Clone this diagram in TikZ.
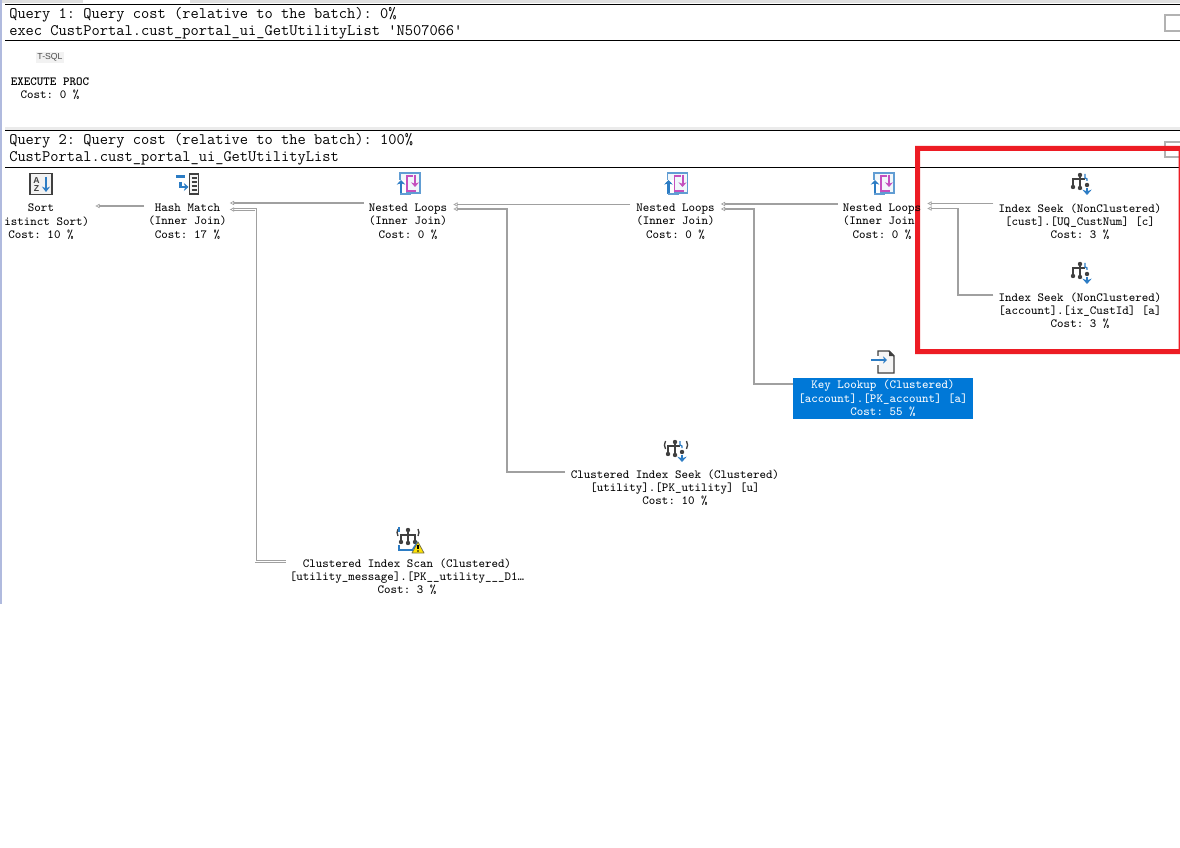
\documentclass[tikz,border=0pt]{standalone}
\usepackage{fontspec}
\newfontfamily\iconfont{Liberation Sans}
\usetikzlibrary{arrows.meta,calc}
\definecolor{linkgray}{RGB}{160,160,160}
\definecolor{iconblue}{RGB}{44,124,196}
\definecolor{icondark}{RGB}{64,64,64}
\definecolor{iconpink}{RGB}{196,80,190}
\definecolor{selblue}{RGB}{0,120,215}
\definecolor{markred}{RGB}{237,28,36}
\definecolor{paneblue}{RGB}{176,186,222}
\tikzset{
  x=0.75pt,y=-0.75pt,
  header/.style={anchor=base west,inner sep=0pt,font=\ttfamily\frenchspacing\fontsize{12pt}{12pt}\selectfont},
  oplabel/.style={align=center,inner sep=0pt,font=\ttfamily\frenchspacing\fontsize{9.3pt}{10.1pt}\selectfont},
  rule/.style={draw=black,line width=0.75pt},
  linkhead/.style={-{Triangle[open,length=3.2pt,width=3.2pt,line width=0.5pt]}},
  linkthin/.style={linkhead,draw=linkgray,line width=0.9pt},
  linkmid/.style={linkhead,draw=linkgray,line width=1.3pt},
  linkwide/.style={linkhead,draw=linkgray,line width=1.9pt},
  linkdouble/.style={draw=linkgray,line width=0.6pt,double=white,double distance=0.5pt,
    -{Triangle[open,length=3.2pt,width=3.2pt,line width=0.5pt]}},
  minibox/.style={draw=black!30,fill=white,line width=1.4pt},
}
% Operator icons, each drawn around its own centre
\newcommand{\sorticon}[2]{\begin{scope}[shift={(#1,#2)}]
  \draw[icondark,line width=1.1pt,fill=black!5] (-11,-10.5) rectangle (11,10.5);
  \node[inner sep=0pt,font=\iconfont\bfseries\fontsize{6.5pt}{6.5pt}\selectfont,text=icondark] at (-4.5,-3.5) {A};
  \node[inner sep=0pt,font=\iconfont\bfseries\fontsize{6.5pt}{6.5pt}\selectfont,text=icondark] at (-4.5,5) {Z};
  \draw[iconblue,line width=1.4pt,-{Stealth[length=4pt,width=6pt]}] (5,-7) -- (5,8);
\end{scope}}
\newcommand{\hashicon}[2]{\begin{scope}[shift={(#1,#2)}]
  \fill[iconblue] (-12,-9) rectangle (-3,-6);
  \draw[iconblue,line width=1.8pt,-{Stealth[length=3.5pt,width=6pt]}] (-7,-2) -- (-7,3) -- (1,3);
  \draw[icondark,line width=1pt,fill=black!4] (2,-10) rectangle (11,10);
  \foreach \ly in {-6,-2,2,6} \draw[icondark,line width=0.9pt] (4,\ly) -- (9,\ly);
\end{scope}}
\newcommand{\loopicon}[2]{\begin{scope}[shift={(#1,#2)}]
  \draw[iconblue!75,line width=1.3pt,fill=iconblue!6] (-8,-11) rectangle (12,9);
  \fill[white] (-12,-4) rectangle (-2,11);
  \draw[iconblue,line width=1.7pt,-{Stealth[length=3.5pt,width=6.5pt]}] (-7,10) -- (-7,-4);
  \draw[iconblue!75,line width=1.3pt] (-8,10) -- (3,10);
  \draw[iconpink,line width=1.1pt] (5,-8) -- (-1,-8) -- (-1,7) -- (8,7);
  \draw[iconpink,line width=1.5pt,-{Stealth[length=3.5pt,width=6pt]}] (7,-9) -- (7,3);
\end{scope}}
\newcommand{\treeicon}[2]{\begin{scope}[shift={(#1,#2)},icondark,line width=1.2pt]
  \draw (0,-8) -- (0,5) (-7,4) -- (-7,-4) -- (5,-4);
  \fill (0,-8) circle (2.2) (0,5) circle (2.2) (-7,4) circle (2.2);
\end{scope}}
\newcommand{\seekicon}[2]{\begin{scope}[shift={(#1,#2)}]
  \treeicon{0}{0}
  \draw[iconblue,line width=1pt] (5,-9) -- (5,-5) -- (7,-4) -- (7,-2);
  \fill[icondark] (7,2) circle (2.2);
  \draw[iconblue,line width=1.5pt,-{Stealth[length=4pt,width=7pt]}] (7,5) -- (7,12);
\end{scope}}
\newcommand{\bracketseekicon}[2]{\begin{scope}[shift={(#1,#2)}]
  \seekicon{0}{0}
  \draw[icondark,line width=1pt] (-9.5,-1) arc[start angle=150,end angle=210,radius=8];
  \draw[icondark,line width=1pt] (11.5,-1) arc[start angle=30,end angle=-30,radius=8];
\end{scope}}
\newcommand{\lookupicon}[2]{\begin{scope}[shift={(#1,#2)}]
  \draw[icondark,line width=1.1pt,fill=black!4] (-5,-11) -- (6,-11) -- (11,-6) -- (11,11) -- (-5,11) -- cycle;
  \fill[icondark] (6,-11) -- (11,-6) -- (6,-6) -- cycle;
  \fill[white] (-6,-6) rectangle (-4,3);
  \draw[iconblue,line width=1.4pt,-{Stealth[length=3pt,width=5.5pt]}] (-12,-2) -- (4,-2);
\end{scope}}
\newcommand{\scanicon}[2]{\begin{scope}[shift={(#1,#2)}]
  \begin{scope}[icondark,line width=1.2pt]
    \draw (1,-9) -- (1,4) (-6,3) -- (-6,-4) -- (8,-4) -- (8,3);
    \fill (1,-9) circle (2.2) (1,4) circle (2.2) (-6,3) circle (2.2) (8,3) circle (2.2);
  \end{scope}
  \draw[icondark,line width=1pt] (-9,-3) arc[start angle=150,end angle=210,radius=7];
  \draw[icondark,line width=1pt] (11,-3) arc[start angle=30,end angle=-30,radius=7];
  \draw[iconblue,line width=0.9pt] (-8,-12) -- (-8,-7) (-8,6) -- (-8,11) -- (6,11);
  \draw[iconblue,line width=1.4pt] (6,10) -- (11,3);
  \draw[black!60!yellow,line width=0.6pt,fill=yellow!85!orange,line join=round] (11,3) -- (17,14) -- (5,14) -- cycle;
  \draw[black,line width=0.9pt] (11,6) -- (11,10);
  \fill[black] (11,12) circle (0.9);
\end{scope}}
\begin{document}
\begin{tikzpicture}
\useasboundingbox (0,0) rectangle (1180,848);
\fill[white] (0,0) rectangle (1180,848);

% Pane frame
\fill[black!12] (0,0) rectangle (83,3);
\fill[black!12] (190,0) rectangle (1180,3);
\fill[paneblue] (0,0) rectangle (1.5,604);
\draw[rule] (5,4.5) -- (1180,4.5);
\draw[rule] (5,41) -- (1180,41);
\fill[black!8] (5,127) rectangle (1180,130);
\draw[rule] (5,130.5) -- (1180,130.5);
\draw[rule] (5,167.5) -- (1180,167.5);
\draw[minibox] (1165,15) rectangle (1182,31);
\draw[minibox] (1165,142) rectangle (1182,157);

% Query headers
\node[header] (q1a) at (9,19) {Query 1: Query cost (relative to the batch): 0\%};
\node[header] (q1b) at (9,36) {exec CustPortal.cust\_portal\_ui\_GetUtilityList \symbol{39}N507066\symbol{39}};
\node[header] (q2a) at (9,145) {Query 2: Query cost (relative to the batch): 100\%};
\node[header] (q2b) at (9,162) {CustPortal.cust\_portal\_ui\_GetUtilityList};

% First plan
\node[fill=black!5,inner sep=1pt,text=black!70,font=\iconfont\fontsize{6.5pt}{7pt}\selectfont] (tsql) at (50,57.5) {T-SQL};
\node[oplabel] (exec) at (50,88.7) {\textbf{EXECUTE PROC}\\Cost: 0 \%};

% Highlight frame around the two index seeks
\fill[markred,even odd rule] (915,146) rectangle (1180,354) (920,151) rectangle (1178.5,349);

% Second plan: operators
\sorticon{41}{184}
\hashicon{187.5}{184}
\loopicon{408}{184}
\loopicon{675.5}{184}
\loopicon{882}{184}
\seekicon{1080}{183}
\seekicon{1080}{272}
\lookupicon{883}{362}
\bracketseekicon{675}{450}
\scanicon{407}{539}

\node[oplabel] (sort) at (43.5,221.7) {\mbox{Sort\kern3.75pt}\\\phantom{D}istinct Sort)\\\mbox{Cost: 10 \%\kern3.75pt}};
\node[oplabel] (hash) at (187.5,221.7) {Hash Match\\(Inner Join)\\Cost: 17 \%};
\node[oplabel] (loopa) at (408,221.7) {Nested Loops\\(Inner Join)\\Cost: 0 \%};
\node[oplabel] (loopb) at (675.5,221.7) {Nested Loops\\(Inner Join)\\Cost: 0 \%};
\node[oplabel] (loopc) at (882,221.7) {Nested Loops\\(Inner Join\phantom{)}\\Cost: 0 \%};
\node[oplabel] (seeka) at (1080,221.7) {Index Seek (NonClustered)\\{}[cust].[UQ\_CustNum] [c]\\Cost: 3 \%};
\node[oplabel] (seekb) at (1080,310.7) {Index Seek (NonClustered)\\{}[account].[ix\_CustId] [a]\\Cost: 3 \%};
\node[oplabel,fill=selblue,text=white,minimum width=135pt,minimum height=30.75pt] (lookup) at (883,398.5) {Key Lookup (Clustered)\\{}[account].[PK\_account] [a]\\Cost: 55 \%};
\node[oplabel] (cseek) at (675,487.7) {Clustered Index Seek (Clustered)\\{}[utility].[PK\_utility] [u]\\Cost: 10 \%};
\node[oplabel] (cscan) at (407,576.7) {Clustered Index Scan (Clustered)\\{}[utility\_message].[PK\_\_utility\_\_\_D1…\\Cost: 3 \%};

% Data-flow connectors
\coordinate (scanin) at (285.5,561.5);
\coordinate (seekcin) at (565,472);
\draw[linkwide] ($(hash.west)+(-4,-15.7)$) -- ($(sort.east)+(6,-15.7)$);
\draw[linkmid] ($(loopa.west)+(-5,-18.7)$) -- ($(hash.east)+(3,-18.7)$);
\draw[linkdouble] (scanin) -| ($(hash.east)+(29,-12.2)$) -- ($(hash.east)+(3,-12.2)$);
\draw[linkmid] ($(loopb.west)+(-6,-17.2)$) -- ($(loopa.east)+(6,-17.2)$);
\draw[linkthin] (seekcin) -| (507,209) -- ($(loopa.east)+(6,-12.7)$);
\draw[linkmid] ($(loopc.west)+(-5,-17.7)$) -- ($(loopb.east)+(6,-17.7)$);
\draw[linkthin] (lookup.north west |- 0,384) -| (754,209) -- ($(loopb.east)+(6,-12.7)$);
\draw[linkthin] ($(seeka.west)+(-5,-18.2)$) -- ($(loopc.east)+(6,-18.2)$);
\draw[linkmid] ($(seekb.west)+(-5,-15.7)$) -| (958,208.5) -- ($(loopc.east)+(6,-13.2)$);
\end{tikzpicture}
\end{document}
